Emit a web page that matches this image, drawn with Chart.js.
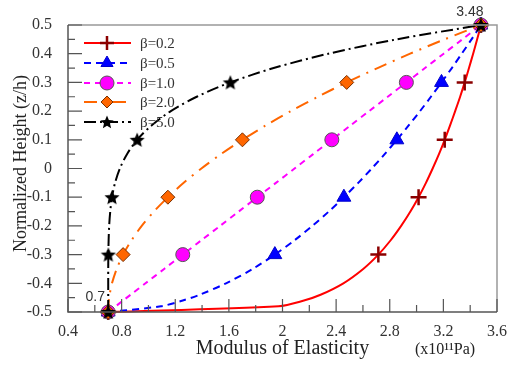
<!DOCTYPE html>
<html>
<head>
<meta charset="utf-8">
<script src="https://cdn.jsdelivr.net/npm/chart.js@4"></script>
<style>
  html, body { margin: 0; padding: 0; background: #fff; }
  #wrap { width: 509px; height: 367px; }
</style>
</head>
<body>
<div id="wrap"><canvas id="fgm" width="509" height="367"></canvas></div>
<script>
// normalized height grid (z/h), shared by every curve
const zGrid = [-0.5, -0.48, -0.46, -0.44, -0.4, -0.35, -0.3, -0.25, -0.2, -0.15, -0.1, -0.05, 0,
               0.05, 0.1, 0.15, 0.2, 0.25, 0.3, 0.35, 0.4, 0.45, 0.5];
// modulus of elasticity (x10^11 Pa)
const eBeta02 = [0.700, 1.971, 2.160, 2.284, 2.454, 2.602, 2.715, 2.807, 2.885, 2.954, 3.015, 3.070,
                 3.120, 3.167, 3.210, 3.250, 3.288, 3.325, 3.359, 3.391, 3.422, 3.452, 3.480];
const eBeta05 = [0.700, 1.093, 1.256, 1.381, 1.579, 1.777, 1.943, 2.090, 2.223, 2.345, 2.458, 2.565,
                 2.666, 2.762, 2.853, 2.941, 3.026, 3.107, 3.186, 3.263, 3.337, 3.410, 3.480];
const eBeta10 = [0.700, 0.756, 0.811, 0.867, 0.978, 1.117, 1.256, 1.395, 1.534, 1.673, 1.812, 1.951,
                 2.090, 2.229, 2.368, 2.507, 2.646, 2.785, 2.924, 3.063, 3.202, 3.341, 3.480];
const eBeta20 = [0.700, 0.701, 0.704, 0.710, 0.728, 0.763, 0.811, 0.874, 0.950, 1.041, 1.145, 1.263,
                 1.395, 1.541, 1.701, 1.875, 2.062, 2.264, 2.479, 2.709, 2.952, 3.209, 3.480];
const eBeta50 = [0.700, 0.700, 0.700, 0.700, 0.700, 0.700, 0.701, 0.703, 0.707, 0.715, 0.728, 0.751,
                 0.787, 0.840, 0.916, 1.023, 1.167, 1.360, 1.611, 1.934, 2.342, 2.851, 3.480];
const betaLabels = ["β=0.2", "β=0.5", "β=1.0", "β=2.0", "β=5.0"];
const markerZ = [-0.5, -0.3, -0.1, 0.1, 0.3, 0.5];

const xTickVals = [0.4, 0.8, 1.2, 1.6, 2, 2.4, 2.8, 3.2, 3.6];
const xTickLabels = ["0.4", "0.8", "1.2", "1.6", "2", "2.4", "2.8", "3.2", "3.6"];
const yTickVals = [-0.5, -0.4, -0.3, -0.2, -0.1, 0, 0.1, 0.2, 0.3, 0.4, 0.5];
const yTickLabels = ["-0.5", "-0.4", "-0.3", "-0.2", "-0.1", "0", "0.1", "0.2", "0.3", "0.4", "0.5"];
const eMetal = 0.7, eCeramic = 3.48;

const SERIF = "'Liberation Serif', 'DejaVu Serif', serif";

function makeStar(r, fill){
  const c = document.createElement("canvas");
  const s = Math.ceil(r * 2 + 4);
  c.width = s; c.height = s;
  const g = c.getContext("2d");
  g.translate(s / 2, s / 2 + r * 0.08);
  g.beginPath();
  for(let i = 0; i < 10; i++){
    const rad = i % 2 ? r * 0.45 : r;
    const a = -Math.PI / 2 + i * Math.PI / 5;
    g.lineTo(Math.cos(a) * rad, Math.sin(a) * rad);
  }
  g.closePath();
  g.fillStyle = fill;
  g.fill();
  return c;
}
const starImg = makeStar(8, "#000");
const starSmall = makeStar(7, "#000");

const styles = [
  {color: "#ff0000", dash: [], ptStyle: "cross", ptFill: "#8b0000", ptBorder: "#8b0000", r: 8, bw: 2.5, lg: "cross", lr: 7},
  {color: "#0000ff", dash: [7, 5], ptStyle: "triangle", ptFill: "#0000ff", ptBorder: "#0000cc", r: 8, bw: 1, lg: "triangle", lr: 7},
  {color: "#ff00ff", dash: [6, 5], ptStyle: "circle", ptFill: "#ff00ff", ptBorder: "#555", r: 7, bw: 1, lg: "circle", lr: 7},
  {color: "#ff6600", dash: [13, 7, 2, 7], ptStyle: "rectRot", ptFill: "#ff6600", ptBorder: "#7a3000", r: 7, bw: 1, lg: "rectRot", lr: 6},
  {color: "#000000", dash: [12, 4, 2, 4], ptStyle: starImg, ptFill: "#000", ptBorder: "#000", r: 8, bw: 1, lg: starSmall, lr: 7},
];
const seriesE = [eBeta02, eBeta05, eBeta10, eBeta20, eBeta50];

const datasets = seriesE.map((arr, i) => {
  const st = styles[i];
  return {
    label: betaLabels[i],
    data: arr.map((e, k) => ({x: e, y: zGrid[k]})),
    showLine: true,
    borderColor: st.color,
    borderWidth: 2,
    borderDash: st.dash,
    tension: 0.3,
    fill: false,
    clip: false,
    order: 5 - i,
    pointStyle: st.ptStyle,
    pointBackgroundColor: st.ptFill,
    pointBorderColor: st.ptBorder,
    pointBorderWidth: st.bw,
    pointRadius: ctx => markerZ.includes(zGrid[ctx.dataIndex]) ? st.r : 0,
    pointHoverRadius: ctx => markerZ.includes(zGrid[ctx.dataIndex]) ? st.r : 0,
  };
});

// ticks inside the frame, major + minor, plus the frame itself
const framePlugin = {
  id: "frame",
  afterDraw(chart){
    const {ctx, chartArea: a, scales} = chart;
    const xs = scales.x, ys = scales.y;
    ctx.save();
    ctx.strokeStyle = "#999";
    ctx.lineWidth = 1.5;
    ctx.beginPath();
    ctx.moveTo(a.left, a.top); ctx.lineTo(a.right, a.top); ctx.lineTo(a.right, a.bottom);
    ctx.stroke();
    ctx.strokeStyle = "#555";
    ctx.beginPath();
    ctx.moveTo(a.left, a.top); ctx.lineTo(a.left, a.bottom); ctx.lineTo(a.right, a.bottom);
    ctx.stroke();
    ctx.lineWidth = 1.2;
    ctx.beginPath();
    xTickVals.forEach((v, i) => {
      const px = xs.getPixelForValue(v);
      ctx.moveTo(px, a.bottom); ctx.lineTo(px, a.bottom - 13);
      if(i < xTickVals.length - 1){
        const mx = xs.getPixelForValue((v + xTickVals[i + 1]) / 2);
        ctx.moveTo(mx, a.bottom); ctx.lineTo(mx, a.bottom - 7);
      }
    });
    yTickVals.forEach((v, i) => {
      const py = ys.getPixelForValue(v);
      ctx.moveTo(a.left, py); ctx.lineTo(a.left + 14, py);
      if(i < yTickVals.length - 1){
        const my = ys.getPixelForValue((v + yTickVals[i + 1]) / 2);
        ctx.moveTo(a.left, my); ctx.lineTo(a.left + 7, my);
      }
    });
    ctx.stroke();
    ctx.restore();
  }
};

const textPlugin = {
  id: "texts",
  afterDraw(chart){
    const {ctx, chartArea: a, scales} = chart;
    ctx.save();
    ctx.fillStyle = "#222";
    // axis titles
    ctx.font = "20px " + SERIF;
    ctx.textAlign = "center";
    ctx.textBaseline = "middle";
    ctx.fillText("Modulus of Elasticity", (a.left + a.right) / 2, 349);
    ctx.save();
    ctx.translate(21, (a.top + a.bottom) / 2 - 5);
    ctx.rotate(-Math.PI / 2);
    ctx.font = "18px " + SERIF;
    ctx.fillText("Normalized Height (z/h)", 0, 0);
    ctx.restore();
    ctx.font = "16px " + SERIF;
    ctx.fillText("(x10¹¹Pa)", 445, 350);
    // end values
    ctx.font = "14px 'Liberation Sans', Arial, sans-serif";
    ctx.fillStyle = "#333";
    ctx.fillText(String(eCeramic), scales.x.getPixelForValue(eCeramic) - 11, a.top - 13);
    ctx.fillText(String(eMetal), scales.x.getPixelForValue(eMetal) - 13, a.bottom - 15);
    ctx.restore();
  }
};

const legendPlugin = {
  id: "betaLegend",
  afterDraw(chart){
    const ctx = chart.ctx;
    const rows = [43, 63, 83, 102, 122];
    ctx.save();
    styles.forEach((st, i) => {
      const y = rows[i];
      ctx.strokeStyle = st.color;
      ctx.lineWidth = 2;
      ctx.setLineDash(st.dash);
      ctx.beginPath();
      ctx.moveTo(84, y); ctx.lineTo(131, y);
      ctx.stroke();
      ctx.setLineDash([]);
      ctx.fillStyle = st.ptFill;
      ctx.strokeStyle = st.ptBorder;
      ctx.lineWidth = st.bw;
      Chart.helpers.drawPoint(ctx, {pointStyle: st.lg, radius: st.lr, rotation: 0, borderWidth: st.bw}, 107, y);
      ctx.fillStyle = "#333";
      ctx.font = "15px " + SERIF;
      ctx.textAlign = "left";
      ctx.textBaseline = "middle";
      ctx.fillText(betaLabels[i], 140, y + 1);
    });
    ctx.restore();
  }
};

new Chart(document.getElementById("fgm"), {
  type: "scatter",
  data: {datasets},
  options: {
    responsive: false,
    animation: false,
    events: [],
    layout: {padding: {top: 25, right: 12, left: 0, bottom: 0}},
    plugins: {legend: {display: false}, tooltip: {enabled: false}},
    scales: {
      x: {
        type: "linear",
        min: 0.4, max: 3.6,
        afterBuildTicks: s => { s.ticks = xTickVals.map(v => ({value: v})); },
        afterFit: s => { s.height = 55; },
        grid: {display: false},
        border: {display: false},
        ticks: {
          padding: 2,
          color: "#333",
          font: {family: SERIF, size: 16},
          maxRotation: 0,
          callback: (v, i) => xTickLabels[i],
        },
      },
      y: {
        type: "linear",
        min: -0.5, max: 0.5,
        afterBuildTicks: s => { s.ticks = yTickVals.map(v => ({value: v})); },
        afterFit: s => { s.width = 68; },
        grid: {display: false},
        border: {display: false},
        ticks: {
          padding: 8,
          color: "#333",
          font: {family: SERIF, size: 16},
          callback: (v, i) => yTickLabels[i],
        },
      },
    },
  },
  plugins: [framePlugin, textPlugin, legendPlugin],
});
</script>
</body>
</html>
